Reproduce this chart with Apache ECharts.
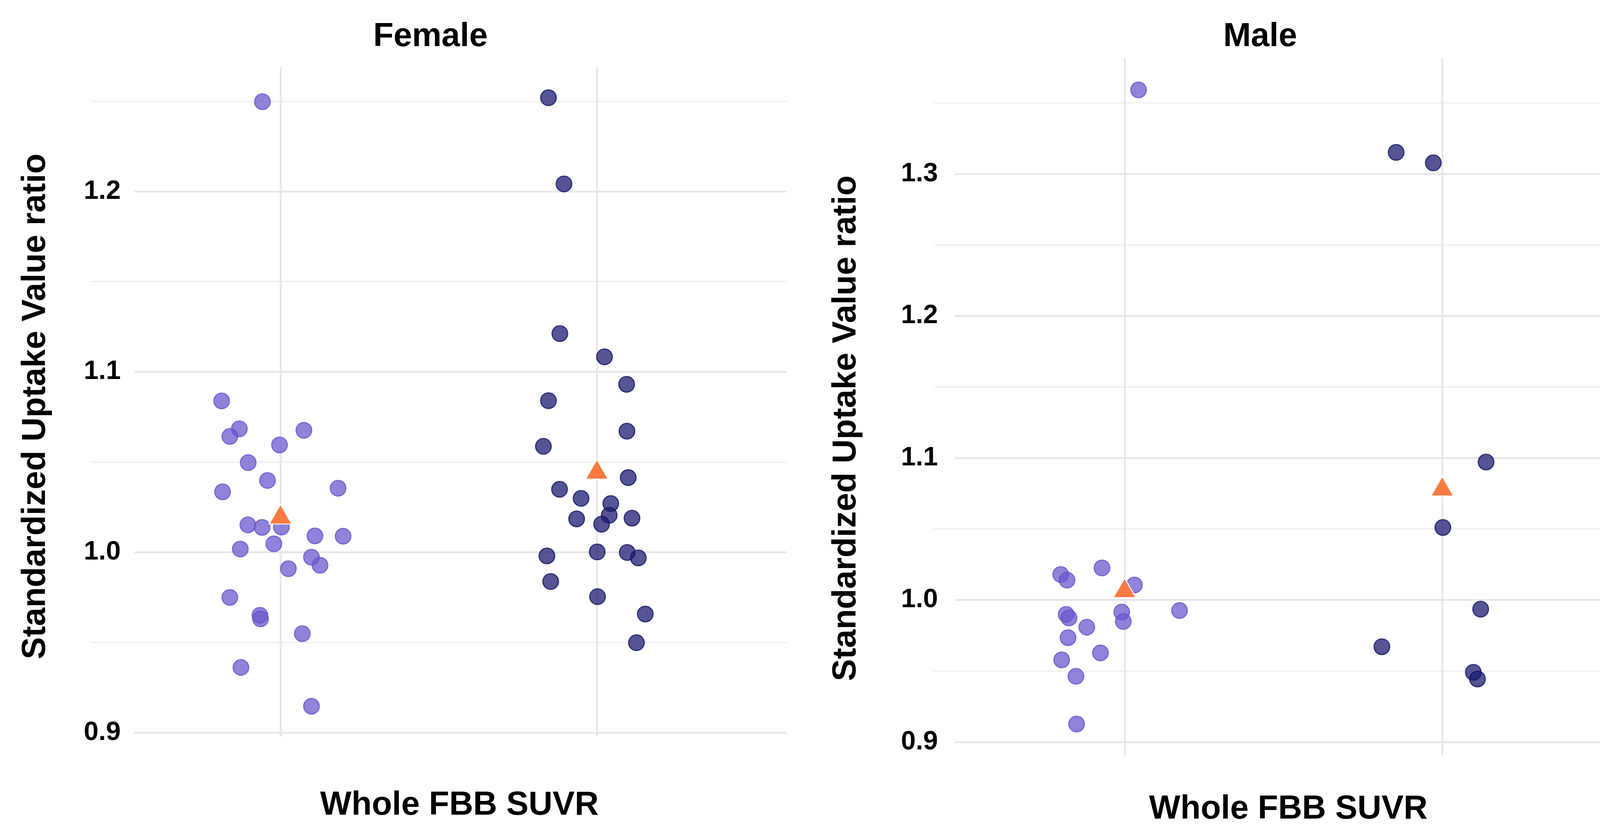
<!DOCTYPE html>
<html>
<head>
<meta charset="utf-8">
<script src="https://cdn.jsdelivr.net/npm/echarts@6/dist/echarts.min.js"></script>
<style>
html, body { margin: 0; padding: 0; background: #ffffff; }
#chart { width: 4273px; height: 2114px; }
</style>
</head>
<body>
<div id="chart"></div>
<script>
// ---------------- data ----------------
const panelTitles = ['Female', 'Male'];
const xAxisTitle = 'Whole FBB SUVR';
const yAxisTitle = 'Standardized Uptake Value ratio';
const groupPositions = [1, 2];           // the two discrete x positions

// Female, group 1 (light purple): jittered x positions and SUVR values
const femaleG1X = [0.943, 0.814, 0.870, 0.840, 1.074, 0.997, 0.898, 0.959, 0.817, 1.182, 0.897, 0.942, 1.003,
                   1.109, 1.198, 0.873, 0.979, 1.098, 1.125, 1.025, 0.840, 0.935, 0.937, 1.069, 0.875, 1.098];
const femaleG1Y = [1.2497, 1.0839, 1.0684, 1.0642, 1.0676, 1.0595, 1.0497, 1.0398, 1.0335, 1.0355, 1.0152, 1.0138, 1.0140,
                   1.0091, 1.0089, 1.0018, 1.0047, 0.9973, 0.9928, 0.9909, 0.9750, 0.9651, 0.9631, 0.9549, 0.9362, 0.9147];
// Female, group 2 (dark navy)
const femaleG2X = [1.847, 1.896, 1.883, 2.024, 2.094, 1.847, 1.831, 2.095, 2.099, 1.882, 1.950, 2.044,
                   2.039, 1.936, 2.015, 2.111, 1.842, 2.001, 2.096, 2.131, 1.854, 2.002, 2.153, 2.125];
const femaleG2Y = [1.2519, 1.2041, 1.1212, 1.1083, 1.0931, 1.0840, 1.0587, 1.0671, 1.0414, 1.0349, 1.0299, 1.0270,
                   1.0205, 1.0185, 1.0156, 1.0189, 0.9980, 1.0002, 0.9999, 0.9969, 0.9838, 0.9754, 0.9658, 0.9499];
// Male, group 1
const maleG1X = [1.044, 0.799, 0.819, 0.929, 1.031, 1.173, 0.816, 0.825, 0.991, 0.996, 0.881, 0.822, 0.924, 0.802, 0.847, 0.849];
const maleG1Y = [1.3592, 1.0179, 1.0139, 1.0225, 1.0105, 0.9925, 0.9898, 0.9873, 0.9914, 0.9848, 0.9808, 0.9734, 0.9627, 0.9578, 0.9462, 0.9126];
// Male, group 2
const maleG2X = [1.855, 1.972, 2.138, 2.002, 2.121, 1.810, 2.098, 2.111];
const maleG2Y = [1.3152, 1.3078, 1.0971, 1.0510, 0.9935, 0.9670, 0.9490, 0.9443];
// group means (orange triangles)
const femaleMeans = [1.0193, 1.0442];
const maleMeans = [1.0062, 1.0778];

// ---------------- styling ----------------
const FONT = '"Liberation Sans", Arial, Helvetica, sans-serif';
const lightFill = 'rgba(106, 90, 205, 0.75)';
const lightEdge = 'rgba(96, 80, 200, 0.75)';
const darkFill = 'rgba(25, 25, 112, 0.74)';
const darkEdge = 'rgba(20, 20, 100, 0.8)';
const meanColor = '#FA7A42';
const majorLine = { color: '#E6E6E6', width: 4.5 };
const minorLine = { color: '#EEEEEE', width: 3 };

function makeY(gridIndex, min, max, margin, pad) {
  return {
    type: 'value', gridIndex: gridIndex, min: min, max: max, splitNumber: 4,
    axisLine: { show: false }, axisTick: { show: false },
    axisLabel: {
      show: true, showMinLabel: false, showMaxLabel: false,
      margin: -margin, padding: [0, pad, 0, 0], backgroundColor: '#ffffff',
      color: '#000000', fontFamily: FONT, fontWeight: 'bold', fontSize: 68,
      formatter: function (v) { return v.toFixed(1); }
    },
    splitLine: { show: true, showMinLine: false, showMaxLine: false, lineStyle: majorLine },
    minorTick: { show: false, splitNumber: 2 },
    minorSplitLine: { show: true, lineStyle: minorLine }
  };
}
function makeX(gridIndex) {
  return {
    type: 'value', gridIndex: gridIndex, min: 0.4, max: 2.6, splitNumber: 2,
    axisLine: { show: false }, axisTick: { show: false }, axisLabel: { show: false },
    splitLine: { show: true, showMinLine: false, showMaxLine: false, lineStyle: majorLine },
    minorSplitLine: { show: false }
  };
}
function pairs(xs, ys) { return xs.map(function (x, i) { return [x, ys[i]]; }); }
function pointSeries(idx, xs, ys, fill, edge) {
  return {
    type: 'scatter', xAxisIndex: idx, yAxisIndex: idx, data: pairs(xs, ys),
    symbol: 'circle', symbolSize: 40, clip: false, z: 2,
    itemStyle: { color: fill, borderColor: edge, borderWidth: 3, opacity: 1 },
    emphasis: { disabled: true }
  };
}
function meanSeries(idx, means) {
  return {
    type: 'scatter', xAxisIndex: idx, yAxisIndex: idx, data: pairs(groupPositions, means),
    symbol: 'triangle', symbolSize: [58, 50], symbolOffset: [0, -8.3], clip: false, z: 3,
    itemStyle: { color: meanColor, borderColor: '#ffffff', borderWidth: 2.5, opacity: 1 },
    emphasis: { disabled: true }
  };
}
function textEl(x, y, txt, size, rot) {
  return {
    type: 'text', x: x, y: y, rotation: rot || 0, silent: true,
    style: {
      text: txt, x: 0, y: 0, fill: '#000000',
      font: 'bold ' + size + 'px ' + FONT,
      align: 'center', verticalAlign: 'middle', textAlign: 'center', textVerticalAlign: 'middle'
    }
  };
}

const chart = echarts.init(document.getElementById('chart'), null, { renderer: 'canvas', width: 4273, height: 2114 });
chart.setOption({
  backgroundColor: '#ffffff',
  animation: false,
  tooltip: { show: false },
  grid: [
    { left: 232, right: 2259, top: 172, bottom: 228.5, containLabel: false, outerBoundsMode: 'none' },
    { left: 2391, right: 93, top: 149, bottom: 180, containLabel: false, outerBoundsMode: 'none' }
  ],
  xAxis: [makeX(0), makeX(1)],
  yAxis: [makeY(0, 0.8978, 1.2688, 112, 35), makeY(1, 0.8903, 1.3815, 53, 43)],
  series: [
    pointSeries(0, femaleG1X, femaleG1Y, lightFill, lightEdge),
    pointSeries(0, femaleG2X, femaleG2Y, darkFill, darkEdge),
    meanSeries(0, femaleMeans),
    pointSeries(1, maleG1X, maleG1Y, lightFill, lightEdge),
    pointSeries(1, maleG2X, maleG2Y, darkFill, darkEdge),
    meanSeries(1, maleMeans)
  ],
  graphic: [
    textEl(1102, 95, panelTitles[0], 85),
    textEl(3226, 95, panelTitles[1], 85),
    textEl(1176, 2062, xAxisTitle, 85),
    textEl(3298, 2072, xAxisTitle, 85),
    textEl(92, 1040, yAxisTitle, 85, Math.PI / 2),
    textEl(2167, 1096, yAxisTitle, 85, Math.PI / 2)
  ]
});
</script>
</body>
</html>
